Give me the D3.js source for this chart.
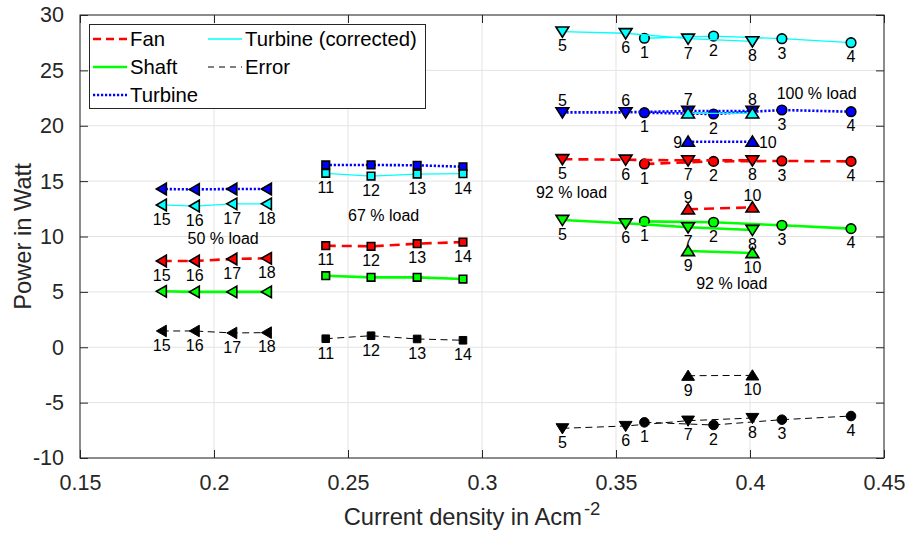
<!DOCTYPE html>
<html><head><meta charset="utf-8">
<script src="https://cdn.jsdelivr.net/npm/d3@7"></script>
<style>body{margin:0;background:#fff}svg{display:block;font-family:"Liberation Sans",Arial,Helvetica,sans-serif}</style>
</head><body><svg id="c" width="909" height="539"></svg>
<script>
// ---- axis ticks ----
const xTicks = [0.15, 0.2, 0.25, 0.3, 0.35, 0.4, 0.45];
const xTickLabels = ["0.15", "0.2", "0.25", "0.3", "0.35", "0.4", "0.45"];
const yTicks = [-10, -5, 0, 5, 10, 15, 20, 25, 30];
const yTickLabels = ["-10", "-5", "0", "5", "10", "15", "20", "25", "30"];

// ---- x values (current density) per operating-point group ----
const xA = [0.3606, 0.3864, 0.4119, 0.4377];   // points 1-4
const xB = [0.3300, 0.3536, 0.3769, 0.4009];   // points 5-8
const xC = [0.3769, 0.4009];                   // points 9-10
const xD = [0.2417, 0.2586, 0.2758, 0.2929];   // points 11-14
const xE = [0.1805, 0.1928, 0.2068, 0.2197];   // points 15-18

const labA = ["1", "2", "3", "4"];
const labB = ["5", "6", "7", "8"];
const labC = ["9", "10"];
const labD = ["11", "12", "13", "14"];
const labE = ["15", "16", "17", "18"];

// ---- series values (Watt) ----
const fanA = [16.55, 16.78, 16.82, 16.78];
const fanB = [16.98, 16.93, 16.87, 16.87];
const fanC = [12.46, 12.63];
const fanD = [9.17, 9.11, 9.35, 9.50];
const fanE = [7.79, 7.79, 7.97, 8.03];

const shaftA = [11.37, 11.28, 11.01, 10.71];
const shaftB = [11.49, 11.19, 10.83, 10.59];
const shaftC = [8.69, 8.51];
const shaftD = [6.46, 6.31, 6.31, 6.16];
const shaftE = [5.05, 5.00, 5.00, 5.00];

const turbA = [21.18, 21.06, 21.42, 21.27];
const turbB = [21.21, 21.21, 21.33, 21.33];
const turbC = [18.56, 18.56];
const turbD = [16.46, 16.46, 16.43, 16.30];
const turbE = [14.29, 14.25, 14.29, 14.29];

const corrA = [27.90, 28.10, 27.86, 27.50];
const corrB = [28.50, 28.35, 27.86, 27.62];
const corrC = [21.12, 21.12];
const corrD = [15.70, 15.46, 15.64, 15.67];
const corrE = [12.85, 12.75, 12.95, 12.95];

const errA = [-6.78, -7.02, -6.54, -6.21];
const errB = [-7.32, -7.11, -6.63, -6.39];
const errC = [-2.57, -2.54];
const errD = [0.77, 1.04, 0.75, 0.63];
const errE = [1.47, 1.47, 1.29, 1.32];

const seriesNames = ["Fan", "Shaft", "Turbine", "Turbine (corrected)", "Error"];

// annotations [text, x, y]
const notes = [
  ["100 % load", 0.4249, 22.98],
  ["92 % load", 0.3334, 13.96],
  ["92 % load", 0.3932, 5.80],
  ["67 % load", 0.2633, 11.88],
  ["50 % load", 0.2034, 9.89]
];

// ---- drawing ----
const m = {l: 80, r: 884, t: 15, b: 458};
const x = d3.scaleLinear().domain([0.15, 0.45]).range([m.l, m.r]);
const y = d3.scaleLinear().domain([-10, 30]).range([m.b, m.t]);
const svg = d3.select("#c");
const axisCol = "#262626";

// grid
const grid = svg.append("g");
grid.selectAll("line.gx").data(xTicks).join("line").attr("class", "gx")
  .attr("x1", d => x(d)).attr("x2", d => x(d)).attr("y1", m.t).attr("y2", m.b)
  .attr("stroke", "#e3e3e3").attr("stroke-width", 1);
grid.selectAll("line.gy").data(yTicks).join("line").attr("class", "gy")
  .attr("x1", m.l).attr("x2", m.r).attr("y1", d => y(d)).attr("y2", d => y(d))
  .attr("stroke", "#e3e3e3").attr("stroke-width", 1);

// axes via d3 axis (ticks inward)
const fmtX = d => xTickLabels[xTicks.indexOf(d)];
const fmtY = d => yTickLabels[yTicks.indexOf(d)];
const tl = 8;
function styleAxis(g) {
  g.select(".domain").remove();
  g.selectAll("line").attr("stroke", axisCol).attr("stroke-width", 1);
  g.selectAll("text").attr("fill", axisCol).attr("font-size", "21.5px")
   .attr("font-family", '"Liberation Sans",Arial,sans-serif');
}
svg.append("g").attr("transform", `translate(0,${m.b})`)
  .call(d3.axisBottom(x).tickValues(xTicks).tickFormat(fmtX).tickSizeInner(-tl).tickPadding(17))
  .call(styleAxis);
svg.append("g").attr("transform", `translate(0,${m.t})`)
  .call(d3.axisTop(x).tickValues(xTicks).tickFormat("").tickSizeInner(-tl)).call(styleAxis);
svg.append("g").attr("transform", `translate(${m.l},0)`)
  .call(d3.axisLeft(y).tickValues(yTicks).tickFormat(fmtY).tickSizeInner(-tl).tickPadding(16))
  .call(styleAxis);
svg.append("g").attr("transform", `translate(${m.r},0)`)
  .call(d3.axisRight(y).tickValues(yTicks).tickFormat("").tickSizeInner(-tl)).call(styleAxis);
svg.append("rect").attr("x", m.l).attr("y", m.t).attr("width", m.r - m.l).attr("height", m.b - m.t)
  .attr("fill", "none").attr("stroke", axisCol).attr("stroke-width", 1);

// axis labels
const xl = svg.append("text").attr("x", (m.l + m.r) / 2 - 10).attr("y", 525)
  .attr("text-anchor", "middle").attr("font-size", "23.7px").attr("fill", axisCol);
xl.append("tspan").text("Current density in Acm");
xl.append("tspan").attr("dx", 2).attr("dy", -10).attr("font-size", "18.5px").text("-2");
svg.append("text").attr("transform", `translate(31,${(m.t + m.b) / 2}) rotate(-90)`)
  .attr("text-anchor", "middle").attr("font-size", "23.7px").attr("fill", axisCol).text("Power in Watt");

// marker shapes
function markerPath(type) {
  switch (type) {
    case "o": return d3.symbol().type(d3.symbolCircle).size(Math.PI * 4.8 * 4.8)();
    case "s": return "M-3.8,-3.8H3.8V3.8H-3.8Z";
    case "v": return "M-6.4,-4.6L6.4,-4.6L0,5.6Z";
    case "^": return "M-6.4,4.6L6.4,4.6L0,-5.6Z";
    case "<": return "M4.6,-5.8L4.6,5.8L-5.4,0Z";
  }
}

const styles = {
  "Fan": {color: "#ff0000", width: 2.6, dash: "10,6", fill: "#ff0000"},
  "Shaft": {color: "#00ff00", width: 2.6, dash: null, fill: "#00ff00"},
  "Turbine": {color: "#0000ff", width: 2.6, dash: "2.2,1.8", fill: "#0000ff"},
  "Turbine (corrected)": {color: "#00ffff", width: 1.3, dash: null, fill: "#00ffff"},
  "Error": {color: "#000000", width: 1, dash: "7,4.5", fill: "#000000"}
};

// label positions: "b" below, "a" above, "lr" left/right, null none
const groups = [
  {s: "Fan", xs: xA, ys: fanA, mk: "o", lab: labA, pos: "b"},
  {s: "Fan", xs: xB, ys: fanB, mk: "v", lab: labB, pos: "b"},
  {s: "Fan", xs: xC, ys: fanC, mk: "^", lab: labC, pos: "a"},
  {s: "Fan", xs: xD, ys: fanD, mk: "s", lab: labD, pos: "b"},
  {s: "Fan", xs: xE, ys: fanE, mk: "<", lab: labE, pos: "b"},
  {s: "Shaft", xs: xA, ys: shaftA, mk: "o", lab: labA, pos: "b"},
  {s: "Shaft", xs: xB, ys: shaftB, mk: "v", lab: labB, pos: "b"},
  {s: "Shaft", xs: xC, ys: shaftC, mk: "^", lab: labC, pos: "b"},
  {s: "Shaft", xs: xD, ys: shaftD, mk: "s", lab: labD, pos: null},
  {s: "Shaft", xs: xE, ys: shaftE, mk: "<", lab: labE, pos: null},
  {s: "Turbine", xs: xA, ys: turbA, mk: "o", lab: labA, pos: "b"},
  {s: "Turbine", xs: xB, ys: turbB, mk: "v", lab: labB, pos: "a"},
  {s: "Turbine", xs: xC, ys: turbC, mk: "^", lab: labC, pos: "lr"},
  {s: "Turbine", xs: xD, ys: turbD, mk: "s", lab: labD, pos: null},
  {s: "Turbine", xs: xE, ys: turbE, mk: "<", lab: labE, pos: null},
  {s: "Turbine (corrected)", xs: xA, ys: corrA, mk: "o", lab: labA, pos: "b"},
  {s: "Turbine (corrected)", xs: xB, ys: corrB, mk: "v", lab: labB, pos: "b"},
  {s: "Turbine (corrected)", xs: xC, ys: corrC, mk: "^", lab: labC, pos: null},
  {s: "Turbine (corrected)", xs: xD, ys: corrD, mk: "s", lab: labD, pos: "b"},
  {s: "Turbine (corrected)", xs: xE, ys: corrE, mk: "<", lab: labE, pos: "b"},
  {s: "Error", xs: xA, ys: errA, mk: "o", lab: labA, pos: "b"},
  {s: "Error", xs: xB, ys: errB, mk: "v", lab: labB, pos: "b"},
  {s: "Error", xs: xC, ys: errC, mk: "^", lab: labC, pos: "b"},
  {s: "Error", xs: xD, ys: errD, mk: "s", lab: labD, pos: "b"},
  {s: "Error", xs: xE, ys: errE, mk: "<", lab: labE, pos: "b"}
];

const line = d3.line().x(d => x(d[0])).y(d => y(d[1]));
const plot = svg.append("g");
groups.forEach(g => {
  const st = styles[g.s];
  const pts = g.xs.map((xv, i) => [xv, g.ys[i]]);
  const gg = plot.append("g");
  gg.append("path").attr("d", line(pts)).attr("fill", "none")
    .attr("stroke", st.color).attr("stroke-width", st.width)
    .attr("stroke-dasharray", st.dash);
  gg.selectAll("path.m").data(pts).join("path").attr("class", "m")
    .attr("transform", d => `translate(${x(d[0])},${y(d[1])})`)
    .attr("d", markerPath(g.mk))
    .attr("fill", st.fill).attr("stroke", "#000").attr("stroke-width", g.s === "Error" ? 1 : 1.6);
});

// point labels
const labG = svg.append("g").attr("font-size", "16px").attr("fill", "#000");
groups.forEach(g => {
  if (!g.pos) return;
  g.xs.forEach((xv, i) => {
    const px = x(xv), py = y(g.ys[i]);
    const t = labG.append("text").text(g.lab[i]);
    if (g.pos === "b") t.attr("x", px).attr("y", py + 19.8).attr("text-anchor", "middle");
    else if (g.pos === "a") t.attr("x", px).attr("y", py - 6.5).attr("text-anchor", "middle");
    else {
      if (i === 0) t.attr("x", px - 6).attr("text-anchor", "end");
      else t.attr("x", px + 6.5).attr("text-anchor", "start");
      t.attr("y", py + 6);
    }
  });
});

// annotations
svg.append("g").selectAll("text").data(notes).join("text")
  .attr("x", d => x(d[1])).attr("y", d => y(d[2]) + 5.8)
  .attr("text-anchor", "middle").attr("font-size", "16px").attr("fill", "#000")
  .text(d => d[0]);

// legend
const lg = svg.append("g");
lg.append("rect").attr("x", 89.5).attr("y", 24.5).attr("width", 336).attr("height", 84)
  .attr("fill", "#fff").attr("stroke", axisCol).attr("stroke-width", 1);
const legPos = [[93, 39], [93, 67], [93, 95], [208, 39], [208, 67]];
seriesNames.forEach((n, i) => {
  const st = styles[n];
  const [lx, ly] = legPos[i];
  lg.append("line").attr("x1", lx).attr("x2", lx + 34).attr("y1", ly).attr("y2", ly)
    .attr("stroke", st.color).attr("stroke-width", st.width)
    .attr("stroke-dasharray", n === "Fan" ? "8,5" : (n === "Error" ? "6,5" : st.dash));
  lg.append("text").attr("x", lx + 37).attr("y", ly + 7.3).attr("font-size", "20.3px")
    .attr("fill", "#000").text(n);
});
</script></body></html>
